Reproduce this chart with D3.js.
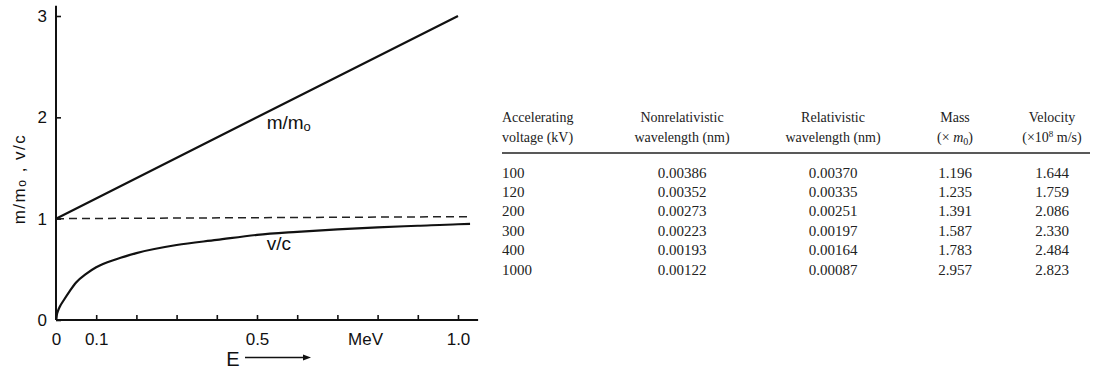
<!DOCTYPE html>
<html lang="en">
<head>
    <meta charset="UTF-8">
    <title>m/m0 and v/c vs E</title>
    <script src="https://d3js.org/d3.v7.min.js"></script>
    <style>
        * {
            margin: 0;
            padding: 0;
        }
        body {
            background-color: white;
            width: 1097px;
            height: 372px;
            overflow: hidden;
        }
        .plot text {
            font-family: "Liberation Sans", Arial, Helvetica, sans-serif;
            fill: #111;
        }
        .tbl text {
            font-family: "Liberation Serif", "Times New Roman", serif;
            fill: #222;
        }
    </style>
</head>
<body>
<svg id="chart" width="1097" height="372"></svg>
<script>
// energy (MeV) and curves
const massE = [0, 0.5, 1.0];
const massRatio = [1.0, 2.0, 3.0];

const speedE = [0, 0.002, 0.005, 0.01, 0.02, 0.035, 0.05, 0.075, 0.1, 0.15, 0.2, 0.3, 0.4, 0.5, 0.6, 0.7, 0.8, 0.9, 1.0, 1.03];
const speedRatio = [0, 0.05, 0.09, 0.135, 0.2, 0.29, 0.37, 0.455, 0.52, 0.6, 0.66, 0.74, 0.79, 0.84, 0.87, 0.895, 0.915, 0.93, 0.945, 0.948];

// the c limit (dashed)
const limitE = [0, 1.03];
const limitValue = [1.0, 1.02];

const xTicks = [0, 0.1, 0.2, 0.3, 0.4, 0.5, 0.6, 0.7, 0.8, 0.9, 1.0];
const xTickLabels = {0: "0", 0.1: "0.1", 0.5: "0.5", 1: "1.0"};
const yTicks = [0, 1, 2, 3];

// table
const tableHeads = [
    ["Accelerating", "voltage (kV)"],
    ["Nonrelativistic", "wavelength (nm)"],
    ["Relativistic", "wavelength (nm)"],
    ["Mass", "(× m0)"],
    ["Velocity", "(×108 m/s)"]
];
const voltages = ["100", "120", "200", "300", "400", "1000"];
const nonrelWavelength = ["0.00386", "0.00352", "0.00273", "0.00223", "0.00193", "0.00122"];
const relWavelength = ["0.00370", "0.00335", "0.00251", "0.00197", "0.00164", "0.00087"];
const massValues = ["1.196", "1.235", "1.391", "1.587", "1.783", "2.957"];
const velocityValues = ["1.644", "1.759", "2.086", "2.330", "2.484", "2.823"];

const svg = d3.select("#chart");

// ---------- plot ----------
const x = d3.scaleLinear().domain([0, 1]).range([56, 458]);
const y = d3.scaleLinear().domain([0, 3]).range([320, 16]);

const plot = svg.append("g").attr("class", "plot");

const xAxis = d3.axisBottom(x)
    .tickValues(xTicks)
    .tickFormat(d => xTickLabels[d] || "")
    .tickSizeInner(-5)
    .tickSizeOuter(0)
    .tickPadding(13);

const gx = plot.append("g")
    .attr("transform", `translate(0,${y(0)})`)
    .call(xAxis);
gx.select(".domain").remove();
gx.selectAll(".tick line").attr("stroke", "#111").attr("stroke-width", 1.6);
gx.selectAll(".tick text").attr("font-size", 17).attr("font-family", null);

const yAxis = d3.axisLeft(y)
    .tickValues(yTicks)
    .tickFormat(d3.format("d"))
    .tickSizeInner(-5)
    .tickSizeOuter(0)
    .tickPadding(9);

const gy = plot.append("g")
    .attr("transform", `translate(${x(0)},0)`)
    .call(yAxis);
gy.select(".domain").remove();
gy.selectAll(".tick line").attr("stroke", "#111").attr("stroke-width", 1.6);
gy.selectAll(".tick text").attr("font-size", 17).attr("font-family", null);

// axis lines (longer than the tick range)
plot.append("line")
    .attr("x1", x(0)).attr("x2", x(1.05))
    .attr("y1", y(0)).attr("y2", y(0))
    .attr("stroke", "#111").attr("stroke-width", 2);
plot.append("line")
    .attr("x1", x(0)).attr("x2", x(0))
    .attr("y1", y(0)).attr("y2", y(3.1))
    .attr("stroke", "#111").attr("stroke-width", 2);

// MeV unit between ticks
plot.append("text")
    .attr("x", x(0.77))
    .attr("y", y(0) + 13)
    .attr("dy", "0.71em")
    .attr("text-anchor", "middle")
    .attr("font-size", 17)
    .text("MeV");

const line = d3.line()
    .x(d => x(d[0]))
    .y(d => y(d[1]));

plot.append("path")
    .datum(limitE.map((e, i) => [e, limitValue[i]]))
    .attr("d", line)
    .attr("fill", "none")
    .attr("stroke", "#222")
    .attr("stroke-width", 1.5)
    .attr("stroke-dasharray", "8,5");

plot.append("path")
    .datum(massE.map((e, i) => [e, massRatio[i]]))
    .attr("d", line)
    .attr("fill", "none")
    .attr("stroke", "#111")
    .attr("stroke-width", 2.2);

plot.append("path")
    .datum(speedE.map((e, i) => [e, speedRatio[i]]))
    .attr("d", line.curve(d3.curveMonotoneX))
    .attr("fill", "none")
    .attr("stroke", "#111")
    .attr("stroke-width", 2.2);

// curve labels
const mLabel = plot.append("text")
    .attr("x", x(0.524))
    .attr("y", y(1.88))
    .attr("font-size", 19);
mLabel.append("tspan").text("m/m");
mLabel.append("tspan").attr("font-size", 13).attr("dy", 2).text("o");

plot.append("text")
    .attr("x", x(0.524))
    .attr("y", y(0.69))
    .attr("font-size", 19)
    .text("v/c");

// y label
const yLabel = plot.append("text")
    .attr("transform", `translate(25,179) rotate(-90)`)
    .attr("text-anchor", "middle")
    .attr("font-size", 17)
    .attr("letter-spacing", 1.5);
yLabel.append("tspan").text("m/m");
yLabel.append("tspan").attr("font-size", 12).attr("dy", 1).text("o");
yLabel.append("tspan").attr("dy", -1).text(" , v/c");

// E arrow
plot.append("text")
    .attr("x", 233)
    .attr("y", 366)
    .attr("text-anchor", "middle")
    .attr("font-size", 20)
    .text("E");
plot.append("line")
    .attr("x1", 245).attr("x2", 305)
    .attr("y1", 357.5).attr("y2", 357.5)
    .attr("stroke", "#111").attr("stroke-width", 1.5);
plot.append("path")
    .attr("d", "M303,354.5 L311,357.5 L303,360.5 Z")
    .attr("fill", "#111");

// ---------- table ----------
const tbl = svg.append("g").attr("class", "tbl");

const colX = [502, 682, 833, 955, 1052];
const colAnchor = ["start", "middle", "middle", "middle", "middle"];
const columns = [voltages, nonrelWavelength, relWavelength, massValues, velocityValues];

const rowY = d3.scalePoint()
    .domain(d3.range(voltages.length))
    .range([177.5, 274.5]);

tableHeads.forEach((lines, c) => {
    lines.forEach((txt, li) => {
        const t = tbl.append("text")
            .attr("x", colX[c])
            .attr("y", 122 + li * 19.5)
            .attr("text-anchor", colAnchor[c])
            .attr("font-size", 14);
        if (c === 3 && li === 1) {
            t.append("tspan").text("(× ");
            t.append("tspan").attr("font-style", "italic").text("m");
            t.append("tspan").attr("font-size", 10).attr("dy", 3).text("0");
            t.append("tspan").attr("dy", -3).text(")");
        } else if (c === 4 && li === 1) {
            t.append("tspan").text("(×10");
            t.append("tspan").attr("font-size", 9).attr("dy", -5).text("8");
            t.append("tspan").attr("dy", 5).text(" m/s)");
        } else {
            t.text(txt);
        }
    });
});

tbl.append("line")
    .attr("x1", 502).attr("x2", 1090)
    .attr("y1", 153).attr("y2", 153)
    .attr("stroke", "#222").attr("stroke-width", 1.6);

columns.forEach((vals, c) => {
    tbl.selectAll(null)
        .data(vals)
        .join("text")
        .attr("x", colX[c])
        .attr("y", (d, i) => rowY(i))
        .attr("text-anchor", colAnchor[c])
        .attr("font-size", 15)
        .text(d => d);
});
</script>
</body>
</html>
